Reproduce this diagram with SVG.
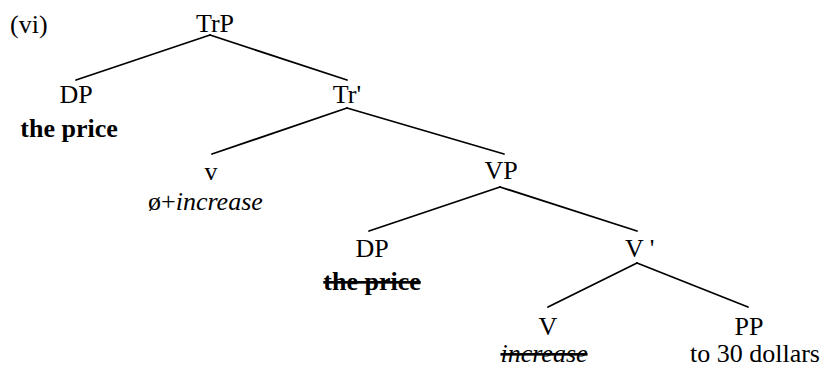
<svg xmlns="http://www.w3.org/2000/svg" width="827" height="369" viewBox="0 0 827 369">
<style>
text{font-family:"Liberation Serif","Times New Roman",serif;font-size:26px;fill:#000}
.m{text-anchor:middle}
.b{font-weight:bold}
.i{font-style:italic}
.s{text-decoration:line-through}
.e line{stroke:#000;stroke-width:1.8;stroke-linecap:round}
</style>
<rect width="827" height="369" fill="#fff"/>
<text id="label" x="10" y="33">(vi)</text>
<g class="e" id="connectors">
<line x1="210" y1="35" x2="76" y2="80"/>
<line x1="210" y1="35" x2="347" y2="80"/>
<line x1="347" y1="108" x2="212" y2="154"/>
<line x1="347" y1="108" x2="504" y2="154"/>
<line x1="500" y1="187" x2="369" y2="231"/>
<line x1="500" y1="187" x2="637" y2="231"/>
<line x1="637" y1="263" x2="548" y2="307"/>
<line x1="637" y1="263" x2="748" y2="307"/>
</g>
<g id="TrP"><text class="m" x="215" y="32">TrP</text></g>
<g id="DP1"><text class="m" x="76" y="103">DP</text><text class="m b" x="69" y="137">the price</text></g>
<g id="Tr1"><text class="m" x="347" y="103">Tr'</text></g>
<g id="v"><text class="m" x="211" y="180">v</text><text x="148" y="210">ø+<tspan class="i">increase</tspan></text></g>
<g id="VP"><text class="m" x="501" y="179">VP</text></g>
<g id="DP2"><text class="m" x="372" y="257">DP</text><text class="m b s" x="372" y="290">the price</text></g>
<g id="V1"><text x="625" y="257">V '</text></g>
<g id="V"><text class="m" x="548" y="335">V</text><text class="m i s" x="544" y="362">increase</text></g>
<g id="PP"><text class="m" x="749" y="335">PP</text><text class="m" x="755" y="362">to 30 dollars</text></g>
</svg>
